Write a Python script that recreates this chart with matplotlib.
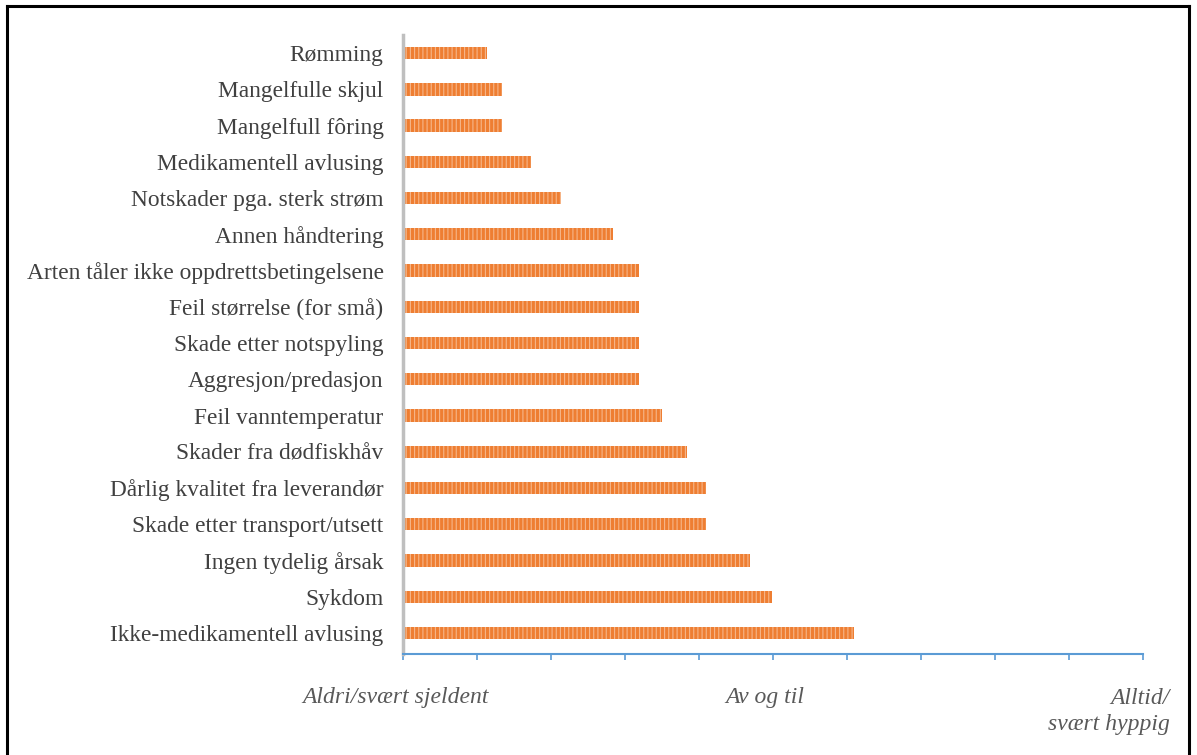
import matplotlib
matplotlib.use("Agg")
import matplotlib.pyplot as plt
from matplotlib.lines import Line2D

categories = [
    "Rømming",
    "Mangelfulle skjul",
    "Mangelfull fôring",
    "Medikamentell avlusing",
    "Notskader pga. sterk strøm",
    "Annen håndtering",
    "Arten tåler ikke oppdrettsbetingelsene",
    "Feil størrelse (for små)",
    "Skade etter notspyling",
    "Aggresjon/predasjon",
    "Feil vanntemperatur",
    "Skader fra dødfiskhåv",
    "Dårlig kvalitet fra leverandør",
    "Skade etter transport/utsett",
    "Ingen tydelig årsak",
    "Sykdom",
    "Ikke-medikamentell avlusing",
]
values = [1.227, 1.268, 1.268, 1.346, 1.427, 1.568, 1.638, 1.638, 1.638,
          1.638, 1.70, 1.768, 1.819, 1.819, 1.938, 1.997, 2.219]
scale_labels = ["Aldri/svært sjeldent", "Av og til", "Alltid/\nsvært hyppig"]

plt.rcParams['font.family'] = ['Liberation Serif', 'DejaVu Serif']
plt.rcParams['hatch.color'] = '#F6B68A'
plt.rcParams['hatch.linewidth'] = 0.8

fig = plt.figure(figsize=(11.97, 7.55), dpi=100)
ax = fig.add_axes([403/1197, 1-654/755, 740/1197, 619/755])

ypos = list(range(len(categories)))
ax.barh(ypos, [v - 1 for v in values], left=1, height=0.34,
        color='#EE7E32', hatch='||||', linewidth=0)

ax.set_xlim(1, 3)
ax.set_ylim(len(categories) - 0.42, -0.5)
ax.set_yticks(ypos)
ax.set_yticklabels(categories, fontsize=16.8, color='#404040')
ax.set_xticks([1 + 0.2 * i for i in range(11)])
ax.set_xticklabels([])
ax.tick_params(axis='y', length=0, pad=14)
ax.tick_params(axis='x', direction='out', length=4, color='#5B9BD5', width=1.2)

for s in ['top', 'right']:
    ax.spines[s].set_visible(False)
ax.spines['left'].set_color('#BFBFBF')
ax.spines['left'].set_linewidth(2.5)
ax.spines['bottom'].set_color('#5B9BD5')
ax.spines['bottom'].set_linewidth(1.5)

tstyle = dict(fontsize=17, color='#595959', style='italic')
fig.text(396/1197, 1-698/755, scale_labels[0], ha='center', va='center', **tstyle)
fig.text(765/1197, 1-698/755, scale_labels[1], ha='center', va='center', **tstyle)
fig.text(1170/1197, 1-688/755, scale_labels[2], ha='right', va='top',
         multialignment='right', linespacing=1.3, **tstyle)

# figure border
bx0, bx1, by = 7/1197, 1189/1197, 1-6/755
for xs, ys in [([bx0, bx0], [0, by]), ([bx0, bx1], [by, by]), ([bx1, bx1], [by, 0])]:
    fig.add_artist(Line2D(xs, ys, color='black', linewidth=2.2, transform=fig.transFigure))

fig.savefig("out.png", dpi=100)
